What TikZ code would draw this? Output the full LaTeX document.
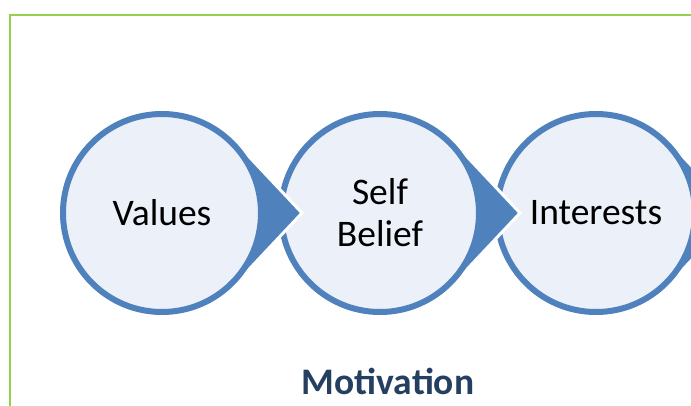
\documentclass[tikz,border=0pt]{standalone}
\usepackage{fontspec}
\setmainfont{Carlito}
\definecolor{stageblue}{HTML}{4F81BD}
\definecolor{stagefill}{HTML}{EBF0F9}
\definecolor{framegreen}{HTML}{92D050}
\definecolor{titleblue}{HTML}{243F60}
\begin{document}
\begin{tikzpicture}[x=1pt, y=-1pt,
    tear/.style={fill=stageblue, draw=white, line width=3pt},
    stage/.style={circle, draw=stageblue, fill=stagefill, line width=6pt, minimum size=198pt, inner sep=0pt, align=center, font=\fontsize{37.5}{42}\selectfont},
    frame/.style={draw=framegreen, line width=2pt}]
    \clip (0,0) rectangle (691,406);

    \draw[frame] (10,15.5) rectangle (740,460);

    % drawn right to left so each tip lies over the next circle
    \foreach \name/\cx/\txt in {interests/596/Interests, belief/380/{Self\\Belief}, values/162/Values} {
        \path[tear] (\cx+140,213) -- ([shift={(\cx,213)}]43.2:102) arc[start angle=43.2, end angle=316.8, radius=102] -- cycle;
        \node[stage] (\name) at (\cx,213) {\txt};
    }

    \node[anchor=base, text=titleblue, font=\fontsize{37.5}{44}\selectfont\bfseries] (motivation) at (388,394) {Motivation};
\end{tikzpicture}
\end{document}
